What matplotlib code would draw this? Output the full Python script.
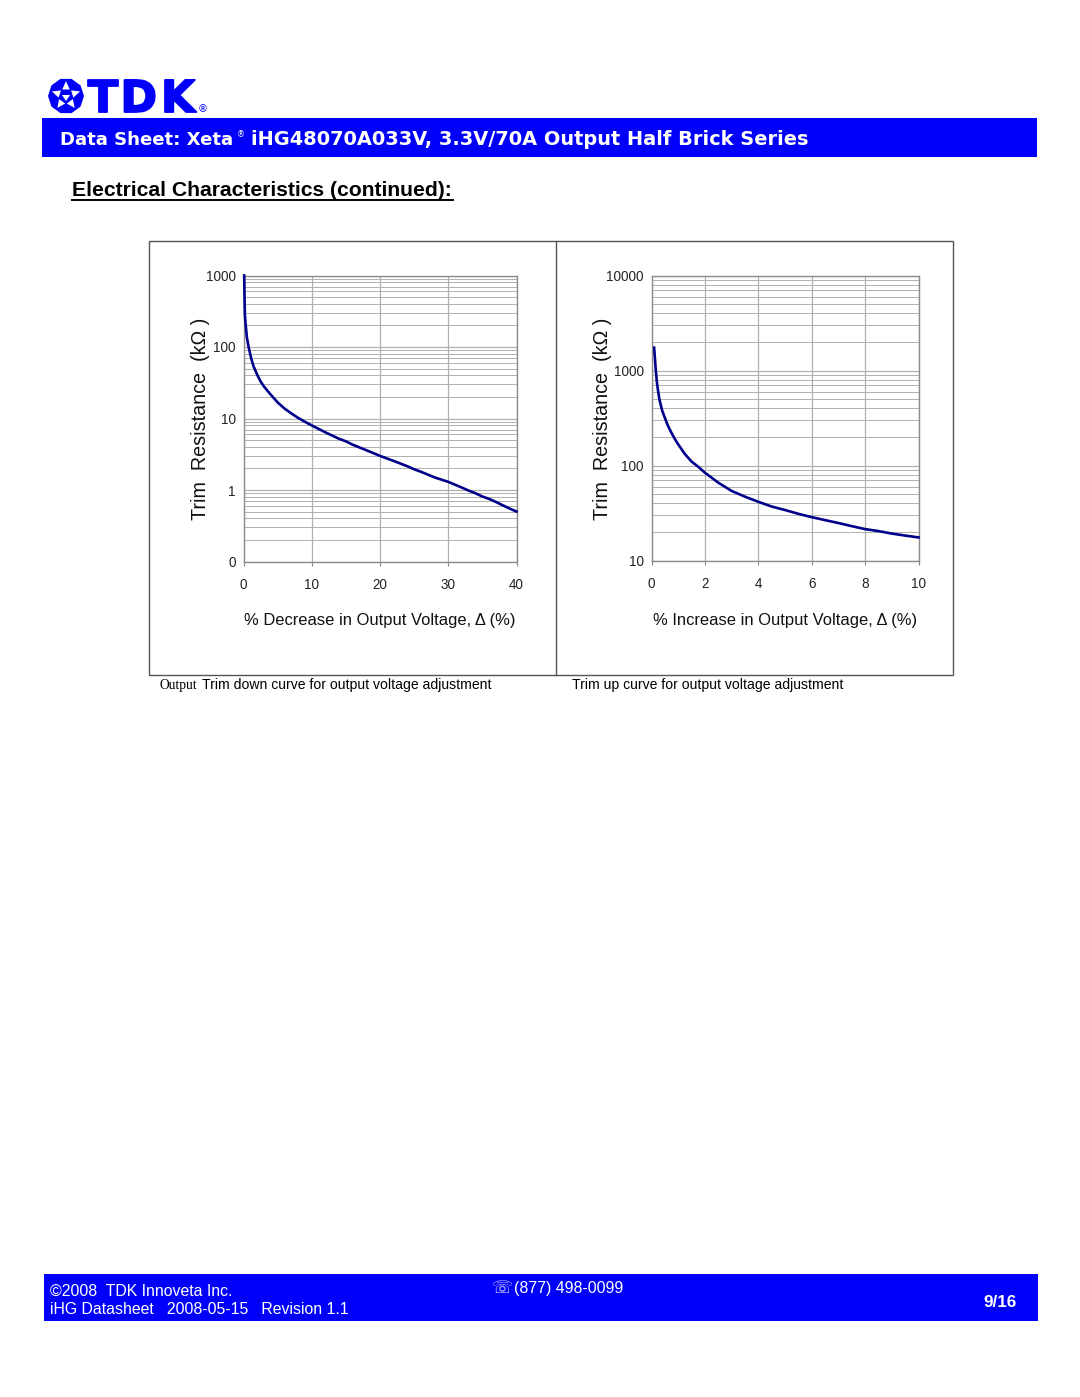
import matplotlib
matplotlib.use("Agg")
import matplotlib.pyplot as plt
import matplotlib.patheffects as pe
from matplotlib.patches import Rectangle, Polygon
from matplotlib.ticker import FixedLocator, FixedFormatter, NullFormatter
import numpy as np

W, H = 1080, 1397
BLUE = "#0000fa"
CURVE = "#00008b"
GRID = "#b0b0b0"

# trim down curve
down_x = [0.1, 0.15, 0.2, 0.3, 0.4, 0.5, 0.75, 1, 1.25, 1.5, 2, 2.5, 3, 3.5, 4, 4.5, 5, 6, 7, 8, 9, 10,
          12, 14, 15, 16, 18, 20, 22, 24, 25, 26, 28, 30, 32, 33, 34, 35, 36, 37, 38, 39, 40]
down_y = [1000, 500, 282, 215, 170, 135, 100, 78, 63, 53, 41, 33, 28, 24.5, 21.5, 19, 16.8, 13.8, 11.8, 10.2, 9.0, 8.0,
          6.4, 5.2, 4.8, 4.3, 3.6, 3.0, 2.55, 2.15, 1.95, 1.8, 1.5, 1.3, 1.08, 0.98, 0.9, 0.81, 0.75, 0.68, 0.61, 0.55, 0.5]
down_yticks = [0.1, 1, 10, 100, 1000]
down_ylabels = ["0", "1", "10", "100", "1000"]
down_xticks = [0, 10, 20, 30, 40]

# trim up curve
up_x = [0.1, 0.15, 0.2, 0.25, 0.3, 0.4, 0.5, 0.6, 0.75, 0.9, 1, 1.25, 1.5, 1.75, 2, 2.5, 3, 3.5, 4, 4.5, 5,
        5.5, 6, 6.5, 7, 7.5, 8, 8.5, 9, 9.5, 10]
up_y = [1740, 1100, 760, 600, 490, 378, 318, 268, 220, 185, 167, 132, 110, 97, 84, 66, 54, 47, 41.5, 37, 34,
        31, 28.6, 26.6, 24.8, 23, 21.4, 20.4, 19.2, 18.3, 17.5]
up_yticks = [10, 100, 1000, 10000]
up_ylabels = ["10", "100", "1000", "10000"]
up_xticks = [0, 2, 4, 6, 8, 10]

plt.rcParams["font.family"] = ["Liberation Sans", "DejaVu Sans"]

def px(size):
    # font size in pixels to points at dpi 100
    return size * 0.72

fig = plt.figure(figsize=(W / 100, H / 100), dpi=100, facecolor="white")

# page layer, in pixel coordinates
page = fig.add_axes([0, 0, 1, 1])
page.set_xlim(0, W)
page.set_ylim(H, 0)
page.axis("off")

# header and footer bands
page.add_patch(Rectangle((42, 118), 995, 39, color=BLUE, lw=0))
page.add_patch(Rectangle((44, 1274), 994, 47, color=BLUE, lw=0))

# logo: faceted ball made of white triangles on a blue ten sided shape
cx, cy, r = 66, 96, 18
ang10 = np.deg2rad(np.arange(10) * 36 - 72)
page.add_patch(Polygon(np.column_stack([cx + r * np.cos(ang10), cy + r * np.sin(ang10)]),
                       closed=True, color=BLUE, lw=0))
for i in range(5):
    a = np.deg2rad(i * 72 - 90)
    w = np.deg2rad(30)
    tri = [(cx + 0.82 * r * np.cos(a), cy + 0.82 * r * np.sin(a)),
           (cx + 0.42 * r * np.cos(a - w), cy + 0.42 * r * np.sin(a - w)),
           (cx + 0.42 * r * np.cos(a + w), cy + 0.42 * r * np.sin(a + w))]
    page.add_patch(Polygon(tri, closed=True, color="white", lw=0))
page.add_patch(Polygon([(cx - 4, cy - 1), (cx + 4, cy - 1), (cx, cy + 5)], closed=True, color="white", lw=0))
for letter, lx in zip("TDK", [88, 120.5, 161]):
    page.text(lx, 112, letter, color=BLUE, fontsize=px(44), fontweight="bold",
              family="DejaVu Sans", va="baseline", ha="left",
              path_effects=[pe.withStroke(linewidth=1.3, foreground=BLUE)])
page.text(203, 109.5, "®", color=BLUE, fontsize=px(10), ha="center", va="center", family="DejaVu Sans")

# header text
page.text(60, 145, "Data Sheet: Xeta", color="white", fontsize=px(18.2), family="DejaVu Sans",
          fontweight="bold", va="baseline")
page.text(236.5, 137, "®", color="white", fontsize=px(8), family="DejaVu Sans", va="baseline")
page.text(251, 145, "iHG48070A033V, 3.3V/70A Output Half Brick Series", color="white", fontsize=px(19.4),
          family="DejaVu Sans", fontweight="bold", va="baseline")
page.text(72, 196, "Electrical Characteristics (continued):", color="black", fontsize=px(21.2),
          fontweight="bold", va="baseline")
page.plot([72, 453], [199.5, 199.5], color="black", lw=1.4)

# frame round both charts
page.add_patch(Rectangle((148.5, 240.5), 804, 434.5, fill=False, ec="#555555", lw=1))
page.plot([555.5, 555.5], [240.5, 675], color="#555555", lw=1)

# captions
page.text(159, 689, "Output", family="Liberation Serif", fontsize=px(13.5), va="baseline")
page.text(202, 688.5, "Trim down curve for output voltage adjustment", fontsize=px(14), va="baseline")
page.text(572, 688.5, "Trim up curve for output voltage adjustment", fontsize=px(14), va="baseline")

# footer text
page.text(50, 1296, "©2008  TDK Innoveta Inc.", color="white", fontsize=px(15.9), va="baseline")
page.text(50, 1314, "iHG Datasheet   2008-05-15   Revision 1.1", color="white", fontsize=px(15.9), va="baseline")
page.text(492, 1293, "☏", color="#c8c8ff", fontsize=px(17), family="DejaVu Sans", va="baseline")
page.text(514, 1293, "(877) 498-0099", color="white", fontsize=px(15.9), va="baseline")
page.text(1000, 1307, "9/16", color="white", fontsize=px(17), fontweight="bold", ha="center", va="baseline")


def chart(box, xs, ys, xticks, yticks, ylabels, xlabel, ylabel_x, xlabel_cx):
    left, top, right, bottom = box
    ax = fig.add_axes([left / W, 1 - bottom / H, (right - left) / W, (bottom - top) / H])
    ax.patch.set_alpha(0)
    ax.set_yscale("log")
    ax.set_xlim(xticks[0], xticks[-1])
    ax.set_ylim(yticks[0], yticks[-1])
    ax.plot(xs, ys, color=CURVE, lw=1.9, clip_on=False, zorder=5)

    ax.xaxis.set_major_locator(FixedLocator(xticks))
    ax.set_xticklabels([str(t) for t in xticks], fontsize=px(13.5), color="#222222")
    ax.yaxis.set_major_locator(FixedLocator(yticks))
    ax.yaxis.set_major_formatter(FixedFormatter(ylabels))
    minor = [m * t for t in yticks[:-1] for m in range(2, 10)]
    ax.yaxis.set_minor_locator(FixedLocator(minor))
    ax.yaxis.set_minor_formatter(NullFormatter())
    for lab in ax.get_yticklabels():
        lab.set_fontsize(px(13.5))
        lab.set_color("#222222")
    ax.tick_params(which="both", axis="y", length=0, pad=5.5)
    ax.tick_params(axis="x", pad=9, length=3, color="#888888")
    ax.grid(True, which="major", color=GRID, lw=0.9)
    ax.grid(True, which="minor", axis="y", color=GRID, lw=0.7)
    for s in ax.spines.values():
        s.set_color("#8c8c8c")
        s.set_linewidth(1)

    # axis titles, placed by axes fraction from page pixels
    ax.set_xlabel(xlabel, fontsize=px(16.5), color="#111111")
    ax.xaxis.set_label_coords((xlabel_cx - left) / (right - left), (bottom - 613.5) / (bottom - top))
    ax.set_ylabel("Trim  Resistance  (kΩ )", fontsize=px(19.8), color="#111111")
    ax.yaxis.set_label_coords((ylabel_x - left) / (right - left), (bottom - 419) / (bottom - top))
    return ax


chart((243.5, 275.5, 516.5, 561.5), down_x, down_y, down_xticks, down_yticks, down_ylabels,
      "% Decrease in Output Voltage, Δ (%)", 210, 380)
chart((651.5, 275.5, 918.5, 560.5), up_x, up_y, up_xticks, up_yticks, up_ylabels,
      "% Increase in Output Voltage, Δ (%)", 612, 785)

fig.savefig("out.png", dpi=100)
